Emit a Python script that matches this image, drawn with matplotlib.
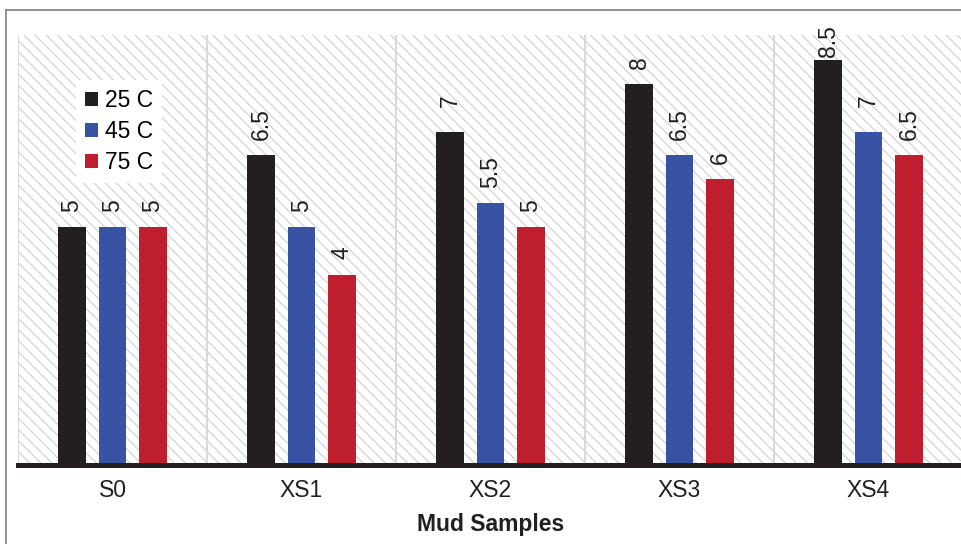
import matplotlib.pyplot as plt
import matplotlib.patches as mpatches
from matplotlib.lines import Line2D

plt.rcParams['font.family'] = ['Liberation Sans', 'DejaVu Sans']
plt.rcParams['hatch.linewidth'] = 0.9

# Data
samples = ['S0', 'XS1', 'XS2', 'XS3', 'XS4']
temps = ['25 C', '45 C', '75 C']
v25 = [5, 6.5, 7, 8, 8.5]
v45 = [5, 5, 5.5, 6.5, 7]
v75 = [5, 4, 5, 6, 6.5]
colors = ['#231f20', '#3853a4', '#be1e2d']

fig = plt.figure(figsize=(9.61, 5.44), dpi=100)
ax = fig.add_axes([18/961, 1-465/544, 945/961, 430/544])

# outer border (left and top visible)
fig.add_artist(Line2D([6/961, 6/961], [0, 1-10/544], transform=fig.transFigure, color='#808080', lw=1.2))
fig.add_artist(Line2D([6/961, 1], [1-10/544, 1-10/544], transform=fig.transFigure, color='#808080', lw=1.2))

# hatched background
ax.set_facecolor('white')
bg = mpatches.Rectangle((0, 0), 1, 1, transform=ax.transAxes, facecolor='white',
                        edgecolor='#d3d3d3', hatch='\\\\\\', lw=0, zorder=0)
ax.add_patch(bg)

# separators between categories
for x in [-0.5, 0.5, 1.5, 2.5, 3.5]:
    ax.axvline(x, color='#d9d9d9', lw=1.5, zorder=1)

w = 0.148
off = 0.214
top = max(v25 + v45 + v75)
series = [v25, v45, v75]
for i, (vals, c, lab) in enumerate(zip(series, colors, temps)):
    xs = [k + (i - 1) * off for k in range(len(samples))]
    bars = ax.bar(xs, vals, width=w, color=c, label=lab, zorder=3)
    for b, v in zip(bars, vals):
        txt = ('%g' % v)
        pad = 11
        if txt == '7':
            pad = 17.5   # single-digit 7 sits higher in the original
        if v == top:
            pad = 2.5    # pushed down to fit inside chart
        ax.annotate(txt, (b.get_x() + b.get_width()/2, v), xytext=(0, pad),
                    textcoords='offset points', rotation=90, ha='center', va='bottom',
                    fontsize=16.5, color='#231f20', zorder=4, annotation_clip=False)

ax.set_xlim(-0.5, 4.5)
ax.set_ylim(0, 9.03)
ax.set_yticks([])
ax.set_xticks(range(len(samples)))
ax.set_xticklabels(samples, fontsize=16.5, color='#231f20')
ax.tick_params(axis='x', length=0, pad=10)
for s in ['left', 'right', 'top']:
    ax.spines[s].set_visible(False)
ax.spines['bottom'].set_linewidth(3.6)
ax.spines['bottom'].set_color('#231f20')
ax.spines['bottom'].set_zorder(5)
ax.set_xlabel('Mud Samples', fontsize=16.5, fontweight='bold', color='#231f20', labelpad=8)

leg = ax.legend(loc='upper left', bbox_to_anchor=(76/961, 1-80/544), bbox_transform=fig.transFigure,
                fontsize=16.5, frameon=True, fancybox=False, handlelength=0.57, handleheight=0.57,
                handletextpad=0.3, labelspacing=0.35, borderpad=0.4, borderaxespad=0)
leg.get_frame().set_facecolor('white')
leg.get_frame().set_edgecolor('none')
leg.get_frame().set_alpha(1)
leg.set_zorder(6)

fig.savefig('out.png', dpi=100)
